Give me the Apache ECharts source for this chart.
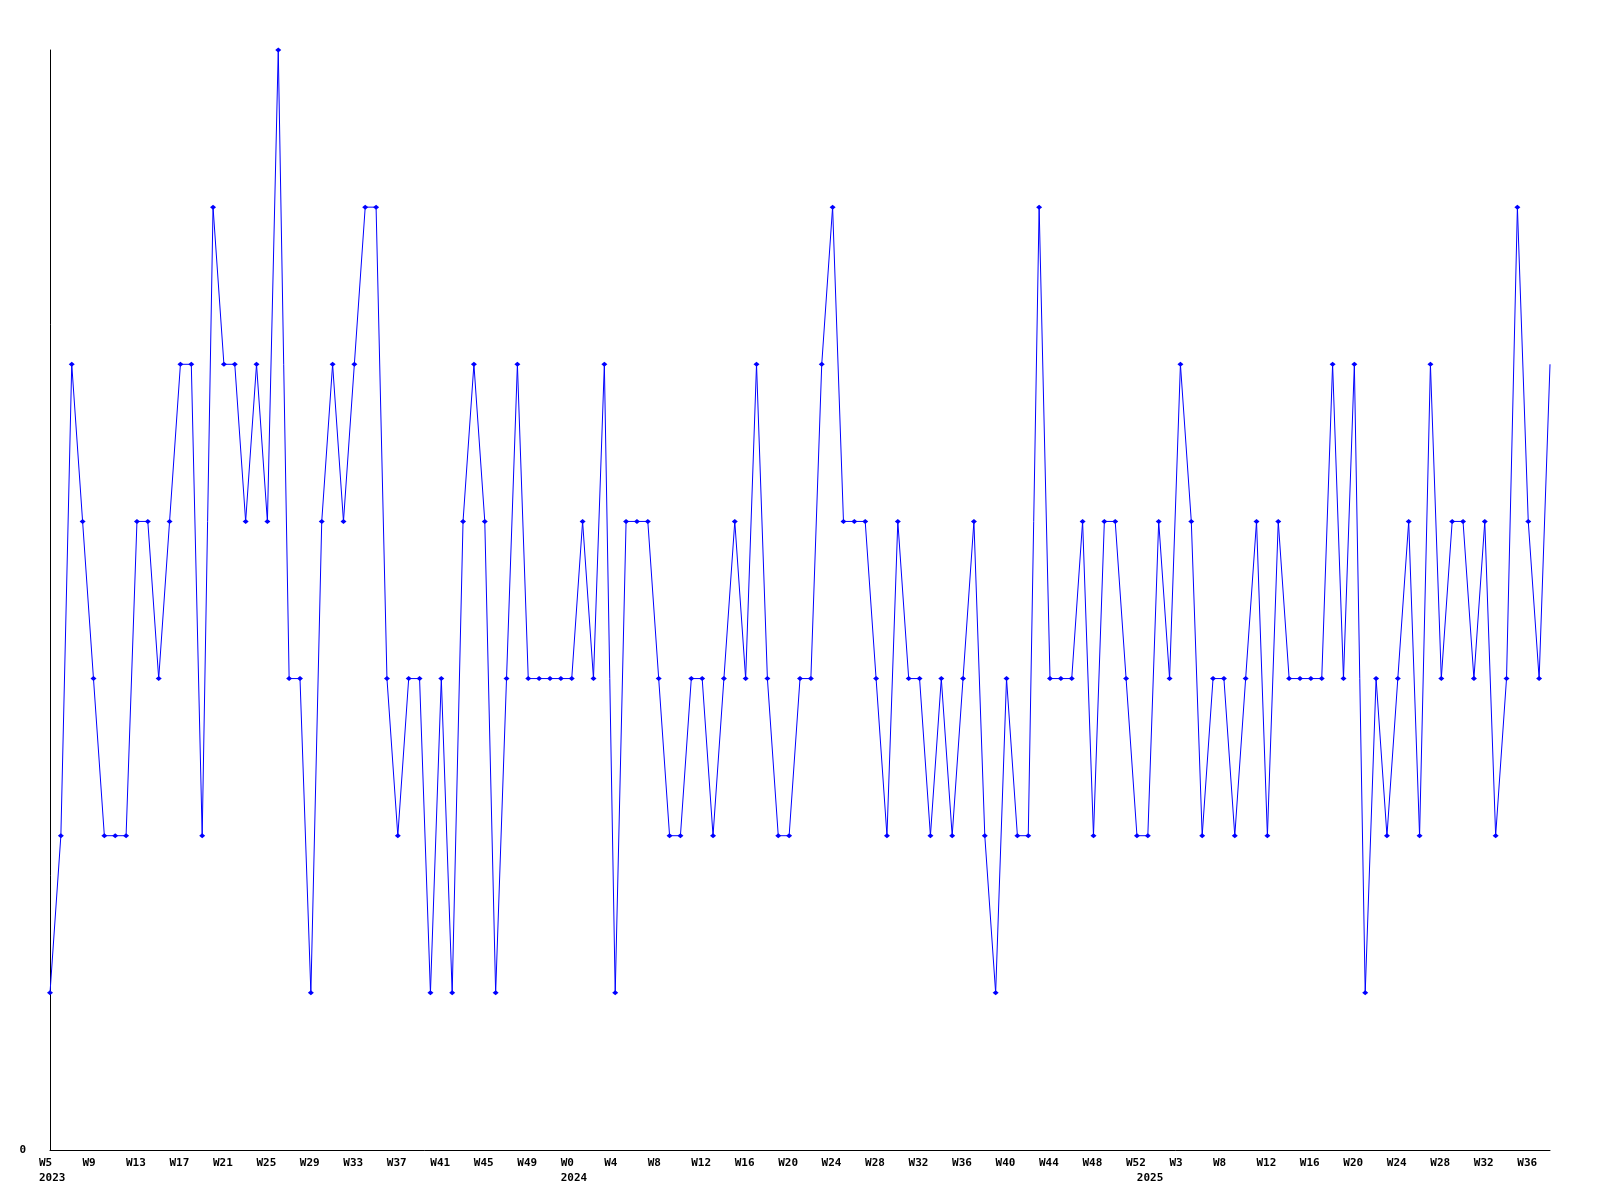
<!DOCTYPE html>
<html>
<head>
<meta charset="utf-8">
<style>
html,body{margin:0;padding:0;background:#fff;}
#chart{width:1600px;height:1200px;}
</style>
<script src="https://cdn.jsdelivr.net/npm/echarts@6/dist/echarts.min.js"></script>
</head>
<body>
<div id="chart"></div>
<script>
// weekly categories: 2023 W5..W52, 2024 W0..W52, 2025 W0..W37
const yearSegments = [
  { year: 2023, from: 5, to: 52 },
  { year: 2024, from: 0, to: 52 },
  { year: 2025, from: 0, to: 37 }
];
const categories = [];
yearSegments.forEach(s => { for (let w = s.from; w <= s.to; w++) categories.push(s.year + '-W' + w); });

const values = [
  1,2,5,4,3,2,2,2,4,4,3,4,5,5,2,6,5,5,4,5,4,7,3,3,1,
  4,5,4,5,6,6,3,2,3,3,1,3,1,4,5,4,1,3,5,3,3,3,3,
  3,4,3,5,1,4,4,4,3,2,2,3,3,2,3,4,3,5,3,2,2,3,3,5,
  6,4,4,4,3,2,4,3,3,2,3,2,3,4,2,1,3,2,2,6,3,3,3,4,
  2,4,4,3,2,2,4,3,5,4,2,3,3,2,3,4,2,4,3,3,3,3,5,3,
  5,1,3,2,3,4,2,5,3,4,4,3,4,2,3,6,4,3,5
];

// tick labels shown every 4 weeks
const tickLabels = ['W5','W9','W13','W17','W21','W25','W29','W33','W37','W41','W45','W49',
  'W0','W4','W8','W12','W16','W20','W24','W28','W32','W36','W40','W44','W48','W52',
  'W3','W8','W12','W16','W20','W24','W28','W32','W36'];
const yearIndex = [0, 48, 101];
const yearLabels = ['2023', '2024', '2025'];

const chart = echarts.init(document.getElementById('chart'), null, { renderer: 'canvas' });
const FONT = 'DejaVu Sans Mono';

// the final point sits on the plot edge and shows no marker in the reference
const seriesData = values.map((v, i) => (i === values.length - 1 ? { value: v, symbol: 'none' } : v));

chart.setOption({
  animation: false,
  backgroundColor: '#ffffff',
  grid: { left: 50, right: 50, top: 50, bottom: 50, containLabel: false },
  xAxis: {
    type: 'category',
    data: categories,
    boundaryGap: false,
    axisLine: { show: true, lineStyle: { color: '#000', width: 1 } },
    axisTick: { show: false },
    splitLine: { show: false },
    axisLabel: {
      show: true,
      hideOverlap: false,
      interval: (idx) => idx % 4 === 0 || yearIndex.indexOf(idx) >= 0,
      margin: 6,
      align: 'center',
      formatter: (val, idx) => {
        const t = idx % 4 === 0 ? tickLabels[idx / 4] : ' ';
        const y = yearIndex.indexOf(idx);
        let s = '{w|' + t + '}';
        if (y >= 0) s += '\n{w|' + yearLabels[y] + '}';
        return s;
      },
      rich: {
        w: { width: 22, align: 'left', fontFamily: FONT, fontWeight: 'bold', fontSize: 11, lineHeight: 15, color: '#000' }
      }
    }
  },
  yAxis: {
    type: 'value',
    min: 0,
    max: 7,
    interval: 1,
    axisLine: { show: true, lineStyle: { color: '#000', width: 1 } },
    axisTick: { show: false },
    splitLine: { show: false },
    axisLabel: {
      margin: 24,
      fontFamily: FONT, fontWeight: 'bold', fontSize: 11, color: '#000',
      formatter: v => (v === 0 ? '0' : '')
    }
  },
  series: [{
    type: 'line',
    data: seriesData,
    symbol: 'diamond',
    symbolSize: [6, 5],
    showAllSymbol: true,
    lineStyle: { color: '#0000ff', width: 1 },
    itemStyle: { color: '#0000ff' },
    emphasis: { disabled: true }
  }]
});
</script>
</body>
</html>
